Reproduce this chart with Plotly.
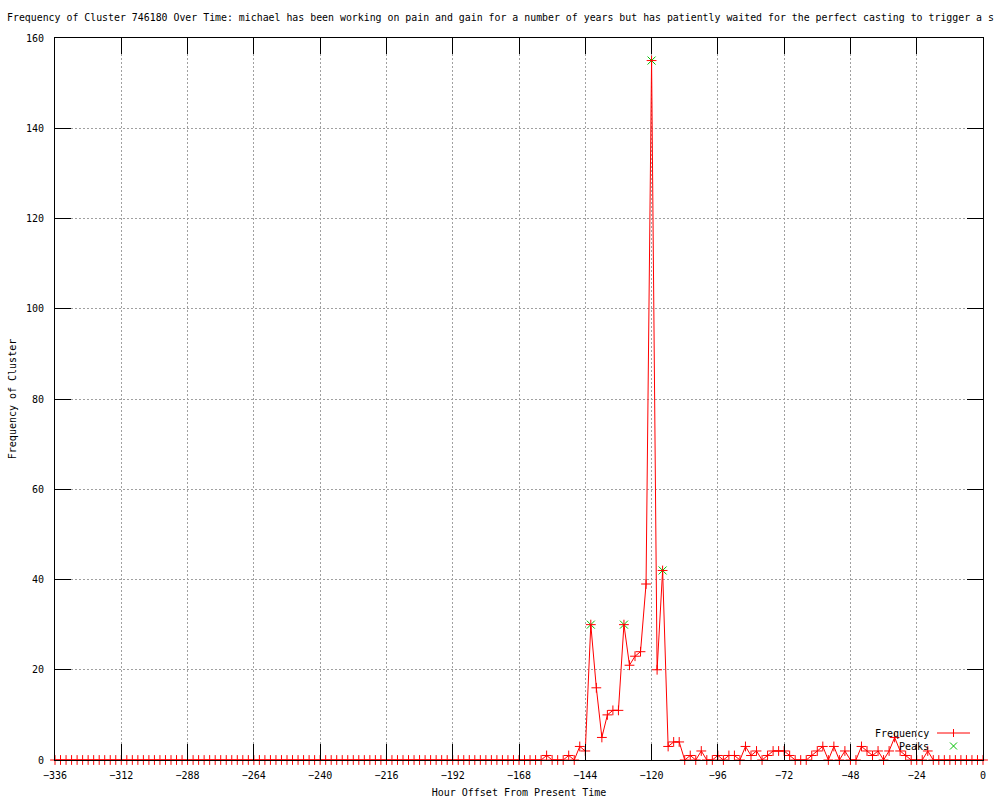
import plotly.graph_objects as go

# ---- data ----
hours = list(range(-336, 1, 2))  # sampling every 2 hours
frequency = (
    [0] * 89 +                       # -336 .. -160
    [1, 0, 0, 0, 1, 0, 3, 2,         # -158 .. -144
     30, 16, 5, 10, 11, 11, 30, 21,  # -142 .. -128
     23, 24, 39, 155, 20, 42, 3, 4,  # -126 .. -112
     4, 0, 1, 0, 2, 0, 0, 1,         # -110 .. -96
     0, 1, 1, 0, 3, 1, 2, 0,         # -94 .. -80
     1, 2, 2, 2, 1, 0, 0, 0,         # -78 .. -64
     1, 2, 3, 0, 3, 0, 2, 0,         # -62 .. -48
     0, 3, 2, 1, 2, 0, 2, 5,         # -46 .. -32
     2, 1, 0, 0, 0, 2] +             # -30 .. -20
    [0] * 10                         # -18 .. 0
)
peak_hours = [-142, -130, -120, -116]
peak_values = [30, 30, 155, 42]

x_ticks = list(range(-336, 1, 24))
y_ticks = list(range(0, 161, 20))

title_text = ("Frequency of Cluster 746180 Over Time: michael has been working on pain and gain "
              "for a number of years but has patiently waited for the perfect casting to trigger a s")

FONT = "DejaVu Sans Mono"
RED = "#ff0000"
GREEN = "#00c000"

fig = go.Figure()
# peaks drawn first so the red frequency markers sit on top, as in the reference
fig.add_trace(go.Scatter(
    x=peak_hours, y=peak_values, mode="markers", name="Peaks",
    marker=dict(symbol="x-thin", size=8, line=dict(color=GREEN, width=1), color=GREEN),
    cliponaxis=False, showlegend=False,
))
fig.add_trace(go.Scatter(
    x=hours, y=frequency, mode="lines+markers", name="Frequency",
    line=dict(color=RED, width=1),
    marker=dict(symbol="cross-thin", size=7, line=dict(color=RED, width=1), color=RED),
    cliponaxis=False, showlegend=False,
))

# plot area geometry (for legend drawing in paper coords)
L, R, T, B = 55, 983, 38, 760
W, H = R - L, B - T
def px(xp): return (xp - L) / W
def py(yp): return (B - yp) / H

shapes = []
ly1 = 733
shapes.append(dict(type="line", xref="paper", yref="paper", x0=px(937), x1=px(970), y0=py(ly1), y1=py(ly1),
                   line=dict(color=RED, width=1)))
cx = 953.5
shapes.append(dict(type="line", xref="paper", yref="paper", x0=px(cx), x1=px(cx), y0=py(ly1 - 4), y1=py(ly1 + 4),
                   line=dict(color=RED, width=1)))
ly2 = 746
for d in (1, -1):
    shapes.append(dict(type="line", xref="paper", yref="paper", x0=px(cx - 3.5), x1=px(cx + 3.5),
                       y0=py(ly2 - 3.5 * d), y1=py(ly2 + 3.5 * d), line=dict(color=GREEN, width=1)))

annotations = [
    dict(text="Frequency", xref="paper", yref="paper", x=px(931), y=py(ly1), xanchor="right", yanchor="middle",
         showarrow=False, font=dict(family=FONT, size=10, color="black")),
    dict(text="Peaks", xref="paper", yref="paper", x=px(931), y=py(ly2), xanchor="right", yanchor="middle",
         showarrow=False, font=dict(family=FONT, size=10, color="black")),
]

axis_common = dict(
    showline=True, linecolor="black", linewidth=1, mirror="ticks",
    ticks="inside", ticklen=16, tickcolor="black", tickwidth=1,
    showgrid=True, gridcolor="#a0a0a0", gridwidth=1, griddash="2px,2px",
    zeroline=False, automargin=False, tickfont=dict(family=FONT, size=10, color="black"),
)

fig.update_layout(
    width=1000, height=800,
    margin=dict(l=L, r=1000 - R, t=T, b=800 - B, pad=0),
    paper_bgcolor="white", plot_bgcolor="white",
    title=dict(text=title_text, x=0.007, xref="container", xanchor="left",
               y=1 - 18 / 800, yref="container", yanchor="middle", automargin=False,
               font=dict(family=FONT, size=9.9, color="black")),
    xaxis=dict(range=[-336, 0], tickvals=x_ticks, ticklabelstandoff=6,
               title=dict(text="Hour Offset From Present Time", font=dict(family=FONT, size=10, color="black"),
                          standoff=8),
               **axis_common),
    yaxis=dict(range=[0, 160], tickvals=y_ticks, ticklabelstandoff=8,
               title=dict(text="Frequency of Cluster", font=dict(family=FONT, size=10, color="black"),
                          standoff=7),
               **axis_common),
    shapes=shapes, annotations=annotations,
    showlegend=False,
)

fig.write_html("out.html", config={"displayModeBar": False},
               post_script="document.body.style.margin='0';")
